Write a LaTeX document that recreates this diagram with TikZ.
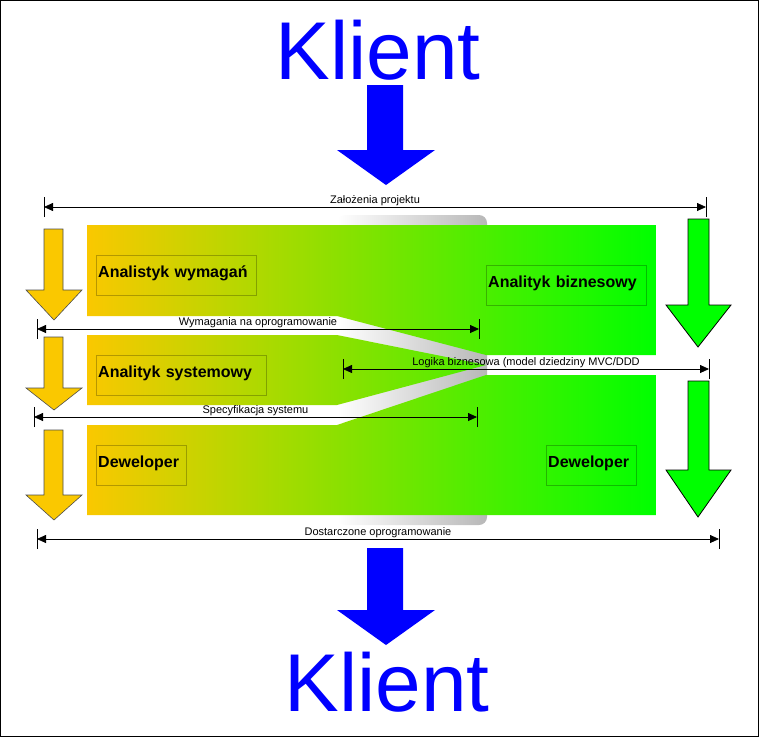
\documentclass[tikz,border=0pt]{standalone}
\usepackage{fontspec}
\setmainfont{Liberation Sans}
\usetikzlibrary{arrows.meta}
\definecolor{orng}{RGB}{250,200,0}
\definecolor{grn}{RGB}{0,255,0}
\definecolor{blu}{RGB}{0,0,255}
\begin{document}
\begin{tikzpicture}[x=1pt,y=-1pt,
  big/.style={font=\fontsize{82}{82}\selectfont,text=blu},
  role/.style={draw=black,draw opacity=0.25,font=\bfseries\fontsize{16}{18}\selectfont,anchor=north west,inner sep=2pt,text height=20pt,text depth=16pt,text width=#1,align=left},
  dim/.style={draw=black,line width=0.8pt,{Triangle[length=9pt,width=8pt]}-{Triangle[length=9pt,width=8pt]}},
  tick/.style={draw=black,line width=0.8pt},
  lbl/.style={font=\fontsize{11}{11}\selectfont,anchor=south,inner sep=1pt},
  yarr/.style={fill=orng,draw=black!70,line width=0.6pt},
  garr/.style={fill=grn,draw=black,line width=0.8pt}]
\useasboundingbox (0,0) rectangle (759,737);
\draw[line width=1pt] (0.5,0.5) rectangle (758.5,736.5);
% Klient top
\node[big] (k1) at (378,50) {Klient};
\fill[blu] (367,85) -- (403,85) -- (403,150) -- (435,150) -- (386,185) -- (337,150) -- (367,150) -- cycle;
% grey background
\shade[left color=white,right color=black!28,rounded corners=8pt] (337,215) rectangle (487,525);
% green bands
\begin{scope}
\clip (87,225) -- (656,225) -- (656,355) -- (486,355) -- (337,316) -- (87,316) -- cycle
      (87,335) -- (337,335) -- (486,365) -- (337,405) -- (87,405) -- cycle
      (87,425) -- (337,425) -- (486,375) -- (656,375) -- (656,515) -- (87,515) -- cycle;
\shade[left color=orng,right color=grn] (87,225) rectangle (656,515);
\end{scope}
% role boxes
\node[role=156pt] (aw) at (96,255) {Analistyk wymagań};
\node[role=156pt] (ab) at (486,265) {Analityk biznesowy};
\node[role=166pt] (as) at (96,355) {Analityk systemowy};
\node[role=86pt] (d1) at (96,445) {Deweloper};
\node[role=86pt] (d2) at (546,445) {Deweloper};
% dimension lines
\coordinate (z1) at (44,207); \coordinate (z2) at (706,207);
\draw[dim] (z1) -- (z2) node[lbl,pos=0.5] (zl) {Założenia projektu};
\coordinate (w1) at (37,329); \coordinate (w2) at (479,329);
\draw[dim] (w1) -- (w2) node[lbl,pos=0.5] (wl) {Wymagania na oprogramowanie};
\coordinate (l1) at (343,369); \coordinate (l2) at (709,369);
\draw[dim] (l1) -- (l2) node[lbl,pos=0.5] (ll) {Logika biznesowa (model dziedziny MVC/DDD};
\coordinate (s1) at (34,417); \coordinate (s2) at (477,417);
\draw[dim] (s1) -- (s2) node[lbl,pos=0.5] (sl) {Specyfikacja systemu};
\coordinate (o1) at (37,539); \coordinate (o2) at (719,539);
\draw[dim] (o1) -- (o2) node[lbl,pos=0.5] (ol) {Dostarczone oprogramowanie};
\foreach \c in {z1,z2,w1,w2,l1,l2,s1,s2,o1,o2}{
  \draw[tick] ([yshift=-10pt]\c) -- ([yshift=10pt]\c);}
% yellow arrows
\draw[yarr] (44,229) -- (63,229) -- (63,290) -- (82,290) -- (54,320) -- (26,290) -- (44,290) -- cycle;
\draw[yarr] (44,337) -- (63,337) -- (63,388) -- (82,388) -- (54,410) -- (26,388) -- (44,388) -- cycle;
\draw[yarr] (44,430) -- (63,430) -- (63,495) -- (82,495) -- (54,520) -- (26,495) -- (44,495) -- cycle;
% green arrows
\draw[garr] (688,219) -- (709,219) -- (709,305) -- (731,305) -- (698,347) -- (666,305) -- (688,305) -- cycle;
\draw[garr] (688,381) -- (709,381) -- (709,470) -- (731,470) -- (698,517) -- (666,470) -- (688,470) -- cycle;
% bottom
\fill[blu] (367,548) -- (403,548) -- (403,610) -- (435,610) -- (386,645) -- (337,610) -- (367,610) -- cycle;
\node[big] (k2) at (387,682) {Klient};
\end{tikzpicture}
\end{document}
